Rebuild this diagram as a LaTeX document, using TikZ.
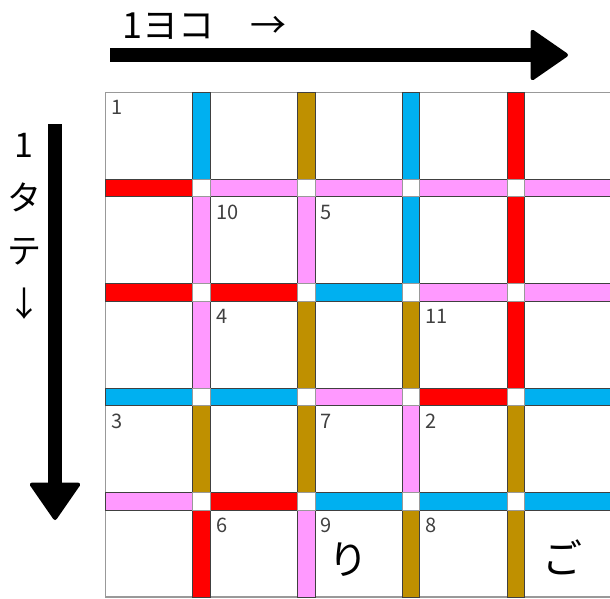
\documentclass[tikz,border=0pt]{standalone}
\usepackage{fontspec}
\setmainfont{Noto Sans CJK JP}
\usetikzlibrary{arrows.meta,calc}

\definecolor{barblue}{RGB}{0,176,240}
\definecolor{barbrown}{RGB}{191,144,0}
\definecolor{barred}{RGB}{255,0,0}
\definecolor{barpink}{RGB}{255,153,255}
\definecolor{numgray}{RGB}{64,64,64}

\tikzset{
  barseg/.style={draw=black!75, line width=1pt},
  crossing/.style={fill=white, draw=black!40, line width=1pt},
  cellnum/.style={anchor=north west, inner sep=0pt, text=numgray, font=\fontsize{20}{20}\selectfont},
  bigarrow/.style={line width=14.5pt, -{Triangle[length=39pt,width=53pt,round,line width=4pt]}},
}

\begin{document}
\begin{tikzpicture}[x=1pt, y=-1pt]
        \useasboundingbox (0,0) rectangle (610,598);

        % grid frame
        \draw[black!40, line width=1.5pt] (612,92.5) -- (105.5,92.5) -- (105.5,597) -- (612,597);

        % vertical bars, one colour per row (top to bottom)
        \foreach \c [count=\r] in {barblue,barpink,barpink,barbrown,barred}
          \filldraw[fill=\c, barseg] ({88+104.8*1},{75+104.4*(\r-1)+17.5}) rectangle ++(17.5,86.9);
        \foreach \c [count=\r] in {barbrown,barpink,barbrown,barbrown,barpink}
          \filldraw[fill=\c, barseg] ({88+104.8*2},{75+104.4*(\r-1)+17.5}) rectangle ++(17.5,86.9);
        \foreach \c [count=\r] in {barblue,barblue,barbrown,barpink,barbrown}
          \filldraw[fill=\c, barseg] ({88+104.8*3},{75+104.4*(\r-1)+17.5}) rectangle ++(17.5,86.9);
        \foreach \c [count=\r] in {barred,barred,barred,barbrown,barbrown}
          \filldraw[fill=\c, barseg] ({88+104.8*4},{75+104.4*(\r-1)+17.5}) rectangle ++(17.5,86.9);

        % horizontal bars, one colour per column (left to right)
        \foreach \c [count=\s] in {barred,barpink,barpink,barpink,barpink}
          \filldraw[fill=\c, barseg] ({88+104.8*(\s-1)+17.5},{75+104.4*1}) rectangle ++(87.3,17.5);
        \foreach \c [count=\s] in {barred,barred,barblue,barpink,barpink}
          \filldraw[fill=\c, barseg] ({88+104.8*(\s-1)+17.5},{75+104.4*2}) rectangle ++(87.3,17.5);
        \foreach \c [count=\s] in {barblue,barblue,barpink,barred,barblue}
          \filldraw[fill=\c, barseg] ({88+104.8*(\s-1)+17.5},{75+104.4*3}) rectangle ++(87.3,17.5);
        \foreach \c [count=\s] in {barpink,barred,barblue,barblue,barblue}
          \filldraw[fill=\c, barseg] ({88+104.8*(\s-1)+17.5},{75+104.4*4}) rectangle ++(87.3,17.5);

        % white crossings
        \foreach \i in {1,...,4}
          \foreach \j in {1,...,4}
            \filldraw[crossing] ({88+104.8*\i},{75+104.4*\j}) rectangle ++(17.5,17.5);

        % clue numbers: number/column/row
        \foreach \n/\c/\r in {1/1/1, 10/2/2, 5/3/2, 4/2/3, 11/4/3, 3/1/4, 7/3/4, 2/4/4, 6/2/5, 9/3/5, 8/4/5}
          \node[cellnum] (num\n) at ({111+104.8*(\c-1)},{100.5+104.4*(\r-1)}) {\n};

        % given letters
        \node[font=\fontsize{40}{40}\selectfont] (ri) at (348,560) {り};
        \node[font=\fontsize{40}{40}\selectfont] (go) at (562,557) {ご};

        % direction labels and arrows
        \node[anchor=base west, inner sep=0pt, font=\fontsize{36}{36}\selectfont] (yoko) at (122,38) {1ヨコ　→};
        \node[anchor=north, inner sep=0pt, align=center, font=\fontsize{34}{53}\selectfont] (tate) at (24,133) {1\\タ\\テ\\↓};

        \coordinate (yokostart) at (110,55);
        \coordinate (yokoend) at (568,55);
        \coordinate (tatestart) at (55,124);
        \coordinate (tateend) at (55,520);
        \draw[bigarrow] (yokostart) -- (yokoend);
        \draw[bigarrow] (tatestart) -- (tateend);
\end{tikzpicture}
\end{document}
